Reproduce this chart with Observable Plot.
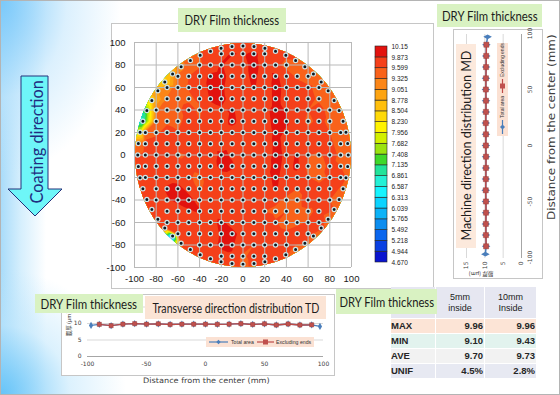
<!DOCTYPE html>
<html><head><meta charset="utf-8">
<script src="https://cdn.jsdelivr.net/npm/d3@7"></script>
<script src="https://cdn.jsdelivr.net/npm/@observablehq/plot@0.6"></script>
<style>
html,body{margin:0;padding:0;background:#fff;}
#root{position:relative;width:560px;height:395px;overflow:hidden;box-sizing:border-box;border:1px solid #b4b4b4;
 font-family:"Liberation Sans",Arial,sans-serif;
 background:
  radial-gradient(ellipse 120px 175px at 0 0, rgba(120,200,250,0.95), rgba(190,228,252,0.55) 55%, rgba(255,255,255,0) 100%),
  radial-gradient(ellipse 125px 125px at 0 100%, rgba(100,195,248,0.95), rgba(185,228,252,0.5) 55%, rgba(255,255,255,0) 100%),
  linear-gradient(to right, #a9dcfa 0px, #d6effd 20px, #ffffff 45px);}
.a{position:absolute;}
.panel{position:absolute;background:#fff;border:1px solid #c6c6c6;box-sizing:border-box;}
.tag{position:absolute;background:#d9f2c2;display:flex;align-items:center;justify-content:center;color:#1c1c1c;font-family:Lato,"Noto Sans",sans-serif;white-space:nowrap;}
.peach{position:absolute;background:#fbe4d5;display:flex;align-items:center;justify-content:center;color:#1c1c1c;font-family:Lato,"Noto Sans",sans-serif;white-space:nowrap;}
.fit{display:inline-block;transform-origin:center;white-space:nowrap;}
#stats{position:absolute;left:389px;top:285px;border-collapse:separate;border-spacing:1px;font-family:"Liberation Sans",Arial,sans-serif;color:#262626;}
#stats td{padding:0 1px;height:14px;font-size:9.5px;font-weight:bold;line-height:14px;}
#stats tr.hd td{background:#e6e7f1;height:31px;text-align:center;font-size:9px;line-height:11px;font-weight:normal;color:#222;}
#stats td.c0{width:43px;text-align:left;padding-left:0;}
#stats td.c1{width:46px;text-align:right;}
#stats td.c2{width:49px;text-align:right;}
</style></head>
<body><div id="root">
  <!-- coating direction arrow -->
  <svg class="a" style="left:0;top:0" width="70" height="230">
    <polygon points="20,75 47,75 47,188 61,188 34,215 7,188 20,188" fill="#6ef6f8" stroke="#23307a" stroke-width="1"/>
  </svg>
  <div class="a" style="left:-35px;top:129px;width:140px;height:24px;transform:rotate(-90deg);display:flex;align-items:center;justify-content:center;font-family:Lato,sans-serif;font-size:17px;color:#1f2d80;">
    <span class="fit" data-fit="123">Coating direction</span>
  </div>

  <!-- main panel -->
  <div class="panel" style="left:110px;top:22px;width:323px;height:266px"></div>
  <div id="main" class="a" style="left:100px;top:30px"></div>
  <div id="leg" class="a" style="left:366px;top:40px"></div>

  <!-- MD panel (rotated profile chart) -->
  <div id="md" class="a" style="left:452px;top:278px;width:250px;height:90px;transform-origin:0 0;transform:rotate(-90deg);">
    <div style="position:absolute;left:0;top:0;width:250px;height:90px;background:#fff;border:1px solid #c6c6c6;box-sizing:border-box"></div>
    <div id="mdplot" class="a" style="left:0;top:0"></div>
    <div class="peach" style="left:31px;top:3px;width:204px;height:20px;font-size:13.5px;background:#fce9dc"><span class="fit" data-fit="190">Machine direction distribution MD</span></div>
    <svg class="a" style="left:143px;top:44px" width="93" height="11">
      <rect width="93" height="11" fill="#fbe1d3"/>
      <line x1="2" x2="16" y1="5.5" y2="5.5" stroke="#4a7ebb" stroke-width="1.2"/>
      <path d="M9,3 L11.5,5.5 L9,8 L6.5,5.5Z" fill="#4a7ebb"/>
      <text x="18" y="7.3" font-size="5" font-family="Liberation Sans" fill="#333">Total area</text>
      <line x1="43" x2="57" y1="5.5" y2="5.5" stroke="#be4b48" stroke-width="1.2"/>
      <rect x="47.5" y="3" width="5" height="5" fill="#c0504d"/>
      <text x="59" y="7.3" font-size="5" font-family="Liberation Sans" fill="#333">Excluding ends</text>
    </svg>
    <div class="a" style="left:-15px;top:24px;width:40px;height:8px;transform:rotate(-90deg);text-align:center;font-family:'Noto Sans CJK JP',sans-serif;font-size:5.5px;line-height:8px;color:#333;">膜厚 (μm)</div>
    <div class="a" style="left:52px;top:91px;width:200px;height:14px;display:flex;align-items:center;justify-content:center;font-family:'DejaVu Sans',sans-serif;font-size:10px;color:#404040;"><span class="fit" data-fit="186">Distance from the center (mm)</span></div>
  </div>

  <!-- TD panel -->
  <div class="panel" style="left:60px;top:293px;width:274px;height:82px"></div>
  <div id="td" class="a" style="left:60px;top:293px"></div>
  <svg class="a" style="left:205px;top:336px" width="108" height="10">
    <rect width="108" height="10" fill="#fbe1d3"/>
    <line x1="3" x2="22" y1="5" y2="5" stroke="#4a7ebb" stroke-width="1.2"/>
    <path d="M12.5,2.8 L14.7,5 L12.5,7.2 L10.3,5Z" fill="#4a7ebb"/>
    <text x="25" y="6.9" font-size="5.2" font-family="Liberation Sans" fill="#333">Total area</text>
    <line x1="51" x2="68" y1="5" y2="5" stroke="#be4b48" stroke-width="1.2"/>
    <rect x="57" y="2.5" width="5" height="5" fill="#c0504d"/>
    <text x="70" y="6.9" font-size="5.2" font-family="Liberation Sans" fill="#333">Excluding ends</text>
  </svg>
  <div class="a" style="left:53px;top:319px;width:30px;height:8px;transform:rotate(-90deg);text-align:center;font-family:'Noto Sans CJK JP',sans-serif;font-size:5.5px;line-height:8px;color:#333;">膜厚 (μm)</div>
  <div class="a" style="left:105px;top:372px;width:200px;height:14px;display:flex;align-items:center;justify-content:center;font-family:'DejaVu Sans',sans-serif;font-size:7.5px;color:#404040;"><span class="fit" data-fit="127">Distance from the center (mm)</span></div>
  <div class="peach" style="left:144px;top:295px;width:181px;height:23px;font-size:14px"><span class="fit" data-fit="167">Transverse direction distribution TD</span></div>

  <!-- stats table -->
  <table id="stats"></table>

  <!-- title tags -->
  <div class="tag" style="left:177px;top:7px;width:108px;height:24px;font-size:13.5px"><span class="fit" data-fit="95">DRY Film thickness</span></div>
  <div class="tag" style="left:436px;top:3px;width:105px;height:23px;font-size:13.5px"><span class="fit" data-fit="96">DRY Film thickness</span></div>
  <div class="tag" style="left:34px;top:293px;width:108px;height:19px;font-size:13.5px"><span class="fit" data-fit="97">DRY Film thickness</span></div>
  <div class="tag" style="left:335px;top:288px;width:101px;height:25px;font-size:13.5px"><span class="fit" data-fit="95">DRY Film thickness</span></div>
</div>
<script>
// ================= DATA =================
const axisTicks = [-100, -80, -60, -40, -20, 0, 20, 40, 60, 80, 100];
const gridXs = [-90, -80, -70, -60, -50, -40, -30, -20, -10, 0, 10, 20, 30, 40, 50, 60, 70, 80, 90];
const gridYs = [90, 80, 70, 60, 50, 40, 30, 20, 10, 0, -10, -20, -30, -40, -50, -60, -70, -80, -90];
const _ = null;
// film thickness (um) at the 10 mm measurement grid, rows top (y=90) to bottom (y=-90)
const thicknessRows = [
  [_,_,_,_,_,_,_,9.78,9.90,9.85,9.92,9.80,_,_,_,_,_,_,_],
  [_,_,_,_,_,9.55,9.75,9.90,9.72,9.80,9.95,9.78,9.70,9.50,_,_,_,_,_],
  [_,_,_,9.40,9.60,9.75,9.92,9.95,9.78,9.80,9.93,9.75,9.92,9.75,9.55,9.45,_,_,_],
  [_,_,9.20,9.45,9.62,9.70,9.95,9.92,9.75,9.78,9.90,9.72,9.95,9.80,9.72,9.65,9.50,_,_],
  [_,_,9.35,9.50,9.55,9.65,9.90,9.93,9.80,9.75,9.80,9.70,9.95,9.78,9.80,9.70,9.55,_,_],
  [_,9.30,9.45,9.55,9.70,9.55,9.80,9.85,9.90,9.78,9.75,9.80,9.96,9.85,9.75,9.60,9.70,9.50,_],
  [_,9.40,9.55,9.50,9.75,9.60,9.78,9.80,9.92,9.80,9.70,9.78,9.95,9.90,9.72,9.55,9.65,9.55,_],
  [9.50,9.55,9.70,9.62,9.80,9.72,9.85,9.78,9.80,9.75,9.80,9.72,9.93,9.85,9.78,9.65,9.75,9.60,9.45],
  [9.65,9.70,9.78,9.72,9.85,9.78,9.80,9.75,9.82,9.78,9.55,9.65,9.95,9.80,9.75,9.70,9.72,9.65,9.50],
  [9.70,9.75,9.72,9.55,9.62,9.80,9.78,9.92,9.85,9.80,9.75,9.70,9.96,9.82,9.90,9.62,9.55,9.70,9.55],
  [9.75,9.80,9.78,9.75,9.70,9.80,9.75,9.95,9.90,9.78,9.80,9.75,9.95,9.80,9.92,9.55,9.50,9.65,9.60],
  [9.78,9.72,9.80,9.78,9.65,9.50,9.80,9.78,9.80,9.75,9.78,9.80,9.92,9.78,9.80,9.60,9.55,9.62,9.70],
  [_,9.80,9.90,9.95,9.80,9.55,9.75,9.80,9.78,9.80,9.75,9.78,9.90,9.70,9.60,9.72,9.65,9.70,_],
  [_,9.75,9.85,9.92,9.95,9.78,9.75,9.72,9.80,9.75,9.78,9.70,9.65,9.55,9.50,9.75,9.70,9.60,_],
  [_,_,9.80,9.78,9.85,9.90,9.78,9.75,9.70,9.78,9.75,9.60,9.55,9.60,9.50,9.55,9.65,_,_],
  [_,_,9.78,9.75,9.80,9.75,9.80,9.92,9.78,9.80,9.72,9.75,9.62,9.50,9.55,9.62,9.70,_,_],
  [_,_,_,9.75,9.78,9.80,9.75,9.90,9.95,9.78,9.80,9.75,9.70,9.65,9.72,9.68,_,_,_],
  [_,_,_,_,_,9.78,9.80,9.92,9.90,9.75,9.60,9.72,9.75,9.70,_,_,_,_,_],
  [_,_,_,_,_,_,_,9.80,9.85,9.55,9.70,9.75,_,_,_,_,_,_,_]
];
// edge measurement points (angle in degrees, on a 97 mm radius)
const edgeRadius = 97;
const edgeAngles = [0,6,12,18,24,30,36,42,48,54,60,66,72,78,84,90,96,102,108,114,120,126,132,138,144,150,156,162,168,174,
  180,186,192,198,204,210,216,222,228,234,240,246,252,258,264,270,276,282,288,294,300,306,312,318,324,330,336,342,348,354];
const edgeThickness = [9.50,9.45,9.50,9.55,9.50,9.45,9.55,9.50,9.55,9.50,9.60,9.65,9.70,9.72,9.80,9.75,9.78,9.70,9.65,9.60,
  9.50,9.20,8.90,8.35,9.05,8.60,7.30,6.70,8.00,9.30,9.60,9.70,9.72,9.75,9.78,9.75,9.80,9.60,5.80,9.55,
  9.75,9.78,9.80,9.75,9.72,9.55,9.65,9.70,9.60,9.62,9.55,9.60,9.55,9.62,9.55,9.60,9.50,9.55,9.60,9.50];
const waferRadius = 99.5;
// colour legend (top to bottom)
const legendLabels = ["10.15","9.873","9.599","9.325","9.051","8.778","8.504","8.230","7.956","7.682","7.408",
  "7.135","6.861","6.587","6.313","6.039","5.765","5.492","5.218","4.944","4.670"];
const bandColors = ["#e2120e","#f5401a","#f9621a","#fb8618","#fda412","#ffbf0c","#ffd908","#fff200","#d2ef00","#9be30f",
  "#3fd82a","#22e39a","#25f0d6","#16f4ff","#0bd3ff","#0bb2f7","#0b8df0","#0a66ee","#0a40e2","#0a14cf"];
// TD / MD profiles
const profilePos = [-97,-90,-80,-70,-60,-50,-40,-30,-20,-10,0,10,20,30,40,50,60,70,80,90,97];
const tdThickness = [9.40,9.75,9.35,9.80,9.95,9.80,9.90,9.70,9.80,9.80,9.80,9.75,9.80,9.95,9.70,9.90,9.55,9.85,9.55,9.60,9.10];
const mdThickness = [9.85,9.65,9.70,9.72,9.68,9.70,9.75,9.72,9.70,9.68,9.72,9.70,9.74,9.70,9.68,9.72,9.70,9.66,9.62,9.58,9.25];
const distTicks = [-100,-50,0,50,100];
const thickTicks = [0,5,10,15];
// statistics table
const statHeaders = ["5mm<br>inside","10mm<br>Inside"];
const statNames = ["MAX","MIN","AVE","UNIF"];
const stat5mm = ["9.96","9.10","9.70","4.5%"];
const stat10mm = ["9.96","9.43","9.73","2.8%"];
const statBg = ["#fce4d6","#e2f3ee","#f2f2f2","#e7e9f2"];

// ================= BUILD =================
const legendVals = legendLabels.map(Number);
const thresholdsAsc = legendVals.slice().reverse();            // 4.670 .. 10.15
const bandLow = thresholdsAsc.slice(0, 20);                    // contour thresholds
const colorScale = {type: "threshold", domain: thresholdsAsc.slice(1, 20), range: bandColors.slice().reverse()};

const samples = [];
thicknessRows.forEach((row, j) => row.forEach((v, i) => { if (v != null) samples.push({x: gridXs[i], y: gridYs[j], v}); }));
edgeAngles.forEach((a, k) => samples.push({x: edgeRadius * Math.cos(a * Math.PI / 180), y: edgeRadius * Math.sin(a * Math.PI / 180), v: edgeThickness[k]}));

const fmt = d => String(d);
const mainPlot = Plot.plot({
  width: 260, height: 260, marginLeft: 33, marginRight: 10, marginTop: 11, marginBottom: 24,
  style: {background: "transparent", fontSize: "9.5px", fontFamily: "'Liberation Sans', Arial, sans-serif", color: "#1a1a1a", overflow: "visible"},
  x: {domain: [-100, 100], ticks: axisTicks, tickSize: 0, tickPadding: 8, tickFormat: fmt, label: null},
  y: {domain: [-100, 100], ticks: axisTicks, tickSize: 0, tickPadding: 9, tickFormat: fmt, label: null},
  color: colorScale,
  marks: [
    Plot.contour(samples, {x: "x", y: "y", fill: "v", interpolate: "barycentric", thresholds: bandLow, pixelSize: 1, stroke: "none"}),
    Plot.ruleX(axisTicks, {stroke: "#b9b9b9", strokeWidth: 1}),
    Plot.ruleY(axisTicks, {stroke: "#b9b9b9", strokeWidth: 1}),
    Plot.dot(samples, {x: "x", y: "y", r: 2.1, fill: "#0c1822", stroke: "#cde6e8", strokeWidth: 1.2})
  ]
});
// clip the interpolated field to the wafer outline
(function () {
  const sx = mainPlot.scale("x"), sy = mainPlot.scale("y");
  const lin = s => v => s.range[0] + (v - s.domain[0]) / (s.domain[1] - s.domain[0]) * (s.range[1] - s.range[0]);
  const fx = lin(sx), fy = lin(sy);
  const svg = d3.select(mainPlot);
  svg.append("defs").append("clipPath").attr("id", "waferClip").append("ellipse")
    .attr("cx", fx(0)).attr("cy", fy(0)).attr("rx", Math.abs(fx(waferRadius) - fx(0))).attr("ry", Math.abs(fy(0) - fy(waferRadius)));
  svg.selectAll('g[aria-label="contour"]').attr("clip-path", "url(#waferClip)");
})();
document.getElementById("main").appendChild(mainPlot);

// colour legend
const labelOf = new Map(legendLabels.map(s => [+s, s]));
const bands = bandLow.map((lo, i) => ({lo, hi: thresholdsAsc[i + 1]}));
const legPlot = Plot.plot({
  width: 60, height: 226, marginLeft: 8, marginRight: 40, marginTop: 5, marginBottom: 5,
  style: {background: "transparent", fontSize: "6.5px", fontFamily: "'Liberation Sans', Arial, sans-serif", color: "#222", overflow: "visible"},
  x: {domain: [0, 1], axis: null},
  y: {domain: [thresholdsAsc[0], thresholdsAsc[20]], axis: "right", ticks: legendVals, tickFormat: d => labelOf.get(d), tickSize: 0, tickPadding: 4, label: null},
  color: colorScale,
  marks: [Plot.rect(bands, {x1: 0, x2: 1, y1: "lo", y2: "hi", fill: "lo", stroke: "#222", strokeWidth: 0.6})]
});
document.getElementById("leg").appendChild(legPlot);

function profile(vals, o) {
  const all = profilePos.map((d, i) => ({d, v: vals[i]}));
  const inner = all.slice(1, -1);
  return Plot.plot({
    width: o.w, height: o.h, marginLeft: o.ml, marginRight: o.mr, marginTop: o.mt, marginBottom: o.mb,
    style: {background: "transparent", fontSize: o.fs + "px", fontFamily: "'DejaVu Sans', Verdana, sans-serif", color: "#404040", overflow: "visible"},
    x: {domain: [-100, 100], ticks: distTicks, tickSize: 0, tickPadding: o.xp, tickFormat: fmt, label: null},
    y: {domain: [0, 15], ticks: o.yticks, tickSize: 0, tickPadding: o.yp, tickFormat: fmt, label: null},
    marks: [
      Plot.ruleY(thickTicks.slice(1), {stroke: "#d9d9d9"}),
      Plot.ruleY(thickTicks.slice(0, 1), {stroke: "#a6a6a6"}),
      Plot.line(all, {x: "d", y: "v", stroke: "#4a7ebb", strokeWidth: o.lw}),
      Plot.dot(all, {x: "d", y: "v", symbol: "diamond", r: o.br, fill: "#4a7ebb"}),
      Plot.line(inner, {x: "d", y: "v", stroke: "#be4b48", strokeWidth: o.lw}),
      Plot.dot(inner, {x: "d", y: "v", symbol: "square", r: o.sr, fill: "#c0504d", stroke: "#8e3432", strokeWidth: 0.4})
    ]
  });
}
// TD: the 15 label sits under the title tags in the slide, so only 0-10 are labelled
document.getElementById("td").appendChild(profile(tdThickness, {w: 273, h: 82, ml: 26, mr: 11, mt: 12.5, mb: 20, fs: 6, xp: 5, yp: 6, lw: 1.3, br: 2.2, sr: 2.4, yticks: thickTicks.slice(0, 3)}));
document.getElementById("mdplot").appendChild(profile(mdThickness, {w: 250, h: 88, ml: 21, mr: 5, mt: 13, mb: 20, fs: 6, xp: 6, yp: 4, lw: 1.5, br: 2.6, sr: 2.9, yticks: thickTicks}));

// statistics table
(function () {
  let html = `<tr class="hd"><td class="c0"></td><td class="c1" style="text-align:center">${statHeaders[0]}</td><td class="c2" style="text-align:center">${statHeaders[1]}</td></tr>`;
  statNames.forEach((n, i) => {
    html += `<tr><td class="c0" style="background:${statBg[i]}">${n}</td><td class="c1" style="background:${statBg[i]}">${stat5mm[i]}</td><td class="c2" style="background:${statBg[i]}">${stat10mm[i]}</td></tr>`;
  });
  document.getElementById("stats").innerHTML = html;
})();

// fit slide texts to their measured widths
function fitAll() {
  document.querySelectorAll("[data-fit]").forEach(el => {
    const w = +el.dataset.fit, ow = el.offsetWidth;
    if (ow > 0) el.style.transform = `scaleX(${w / ow})`;
  });
}
fitAll();
if (document.fonts && document.fonts.ready) document.fonts.ready.then(fitAll);
</script>
</body></html>
